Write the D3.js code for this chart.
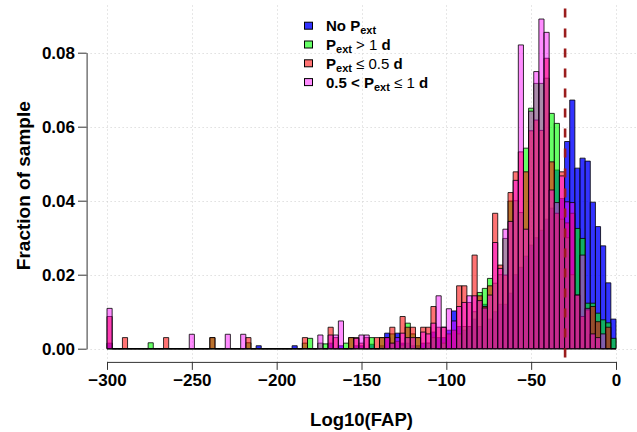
<!DOCTYPE html>
<html>
<head>
<meta charset="utf-8">
<script src="https://cdn.jsdelivr.net/npm/d3@7"></script>
<style>
  html, body { margin: 0; padding: 0; background: #fff; }
  svg { display: block; font-family: "Liberation Sans", Arial, Helvetica, sans-serif; }
</style>
</head>
<body>
<svg id="chart" width="637" height="432"></svg>
<script>
// ---- data (fraction of sample per bin; 99 bins from -300 to 0) ----
const binStart = -300;
const binEnd = 0;
const nBins = 99;

const seriesNames = ["No Pext", "Pext > 1 d", "Pext \u2264 0.5 d", "0.5 < Pext \u2264 1 d"];

const noPext = [
  0.0015,0,0,0,0,0,0,0,0,0,
  0,0,0,0,0,0,0,0,0,0,
  0,0,0,0,0,0,0,0,0,0.0008,
  0,0,0,0,0,0,0.0008,0,0,0,
  0,0,0,0.0015,0,0.0008,0,0,0.0008,0.0008,
  0,0.0012,0,0.0008,0.0042,0.0015,0.0042,0.0015,0.0015,0.0008,
  0.0008,0.0015,0.0015,0.0045,0.003,0.003,0.005,0.0102,0.006,0.005,
  0.006,0.008,0.006,0.012,0.008,0.01,0.012,0.012,0.015,0.02,
  0.022,0.025,0.028,0.03,0.032,0.035,0.038,0.0483,0.0406,0.056,
  0.0672,0.0488,0.0515,0.0507,0.0396,0.033,0.0278,0.0178,0.008
];

const pextGt1 = [
  0,0,0,0,0,0,0,0,0.0016,0,
  0,0,0,0,0,0,0,0,0,0,
  0.003,0,0,0,0,0,0,0.0016,0,0,
  0,0,0,0,0,0,0,0,0.0015,0.0028,
  0,0.0015,0.0013,0,0,0,0.0015,0.003,0,0,
  0,0.003,0,0.003,0,0.004,0,0.001,0.0069,0.004,
  0.003,0,0.0015,0.003,0,0.0015,0,0,0.004,0.006,
  0.006,0.01,0.0152,0.0163,0.019,0.0177,0.02,0.0298,0.0399,0.04,
  0.0368,0.0542,0.065,0.0717,0.0717,0.0731,0.0636,0.0609,0.035,0.03,
  0.02,0.0325,0.0298,0.0123,0.0123,0.0096,0.0078,0.007,0.0028
];

const pextLe05 = [
  0.0087,0,0,0.003,0,0,0,0,0,0,
  0,0.003,0,0,0,0,0,0,0,0,
  0.003,0,0,0,0,0,0,0.003,0,0,
  0,0,0,0,0,0,0,0,0.003,0,
  0,0,0,0.0058,0.003,0,0,0.003,0.003,0.0015,
  0.003,0,0.003,0.003,0.003,0.0058,0.002,0.0087,0.0058,0.0058,
  0.003,0.0058,0.0058,0.0114,0.0058,0.0058,0.004,0.005,0.017,0.017,
  0.0125,0.0253,0.0143,0.0114,0.017,0.0366,0.0226,0.0199,0.0422,0.0478,
  0.0532,0.0478,0.0589,0.0618,0.059,0.0785,0.0505,0.0366,0.0478,0.034,
  0.0366,0.0145,0.0087,0.0105,0.0114,0.0073,0,0.0058,0
];

const pext05to1 = [
  0.0109,0,0,0,0,0,0,0,0,0,
  0,0,0,0,0,0,0.0039,0,0,0,
  0,0,0,0.0039,0,0,0.0039,0,0,0,
  0,0,0,0,0,0,0,0,0,0,
  0,0.0037,0,0.0037,0.0037,0.0075,0,0,0.0028,0.0037,
  0.0037,0,0,0,0.003,0.0015,0.003,0.0042,0.003,0.003,
  0,0.0045,0.004,0.0069,0.0143,0.0058,0.0108,0.0075,0.0114,0.0125,
  0.0143,0.0143,0.013,0.011,0.0145,0.0287,0.0217,0.0323,0.0344,0.0455,
  0.0821,0.0323,0.0642,0.0749,0.0891,0.0855,0.0429,0.0395,0.0467,0.0397,
  0.0395,0.0145,0.0253,0.0109,0.004,0.003,0.004,0,0
];

const xTicks = [-300, -250, -200, -150, -100, -50, 0];
const yTicks = [0, 0.02, 0.04, 0.06, 0.08];
const thresholdLine = -30;

// ---- styling ----
const fills = ["rgba(0,0,255,0.8)", "rgba(0,255,0,0.6)", "rgba(255,0,0,0.55)", "rgba(255,0,255,0.45)"];
const seriesValues = [noPext, pextGt1, pextLe05, pext05to1];

const svg = d3.select("#chart");
const plot = { left: 86.6, right: 636.4, top: 5.5, bottom: 361.9 };

const x = d3.scaleLinear().domain([binStart, binEnd]).range([107, 616]);
const y = d3.scaleLinear().domain([0, 0.08]).range([348.7, 52.7]);

const binW = (binEnd - binStart) / nBins;
const edges = d3.range(nBins + 1).map(i => binStart + i * binW);

// grid (dotted)
const grid = svg.append("g").attr("stroke", "#cfcfcf").attr("stroke-width", 1).attr("stroke-dasharray", "1,3");
grid.selectAll("line.v").data(xTicks).join("line")
  .attr("x1", d => Math.round(x(d)) + 0.5).attr("x2", d => Math.round(x(d)) + 0.5)
  .attr("y1", plot.top).attr("y2", plot.bottom);
grid.selectAll("line.h").data(yTicks).join("line")
  .attr("y1", d => Math.round(y(d)) + 0.5).attr("y2", d => Math.round(y(d)) + 0.5)
  .attr("x1", plot.left).attr("x2", plot.right);

// bars
seriesValues.forEach((vals, si) => {
  const g = svg.append("g");
  g.selectAll("path").data(vals).join("path")
    .attr("d", (v, i) => {
      const x0 = x(edges[i]), x1 = x(edges[i + 1]);
      const y0 = y(0), y1 = y(v);
      return `M${x0},${y0}V${y1}H${x1}V${y0}Z`;
    })
    .attr("fill", fills[si])
    .attr("stroke", "#000")
    .attr("stroke-opacity", 0.8)
    .attr("stroke-width", 1);
});

// threshold dashed line
svg.append("line")
  .attr("x1", x(thresholdLine)).attr("x2", x(thresholdLine))
  .attr("y1", plot.top).attr("y2", plot.bottom)
  .attr("stroke", "#9a1c1c").attr("stroke-width", 2.6)
  .attr("stroke-dasharray", "9,11").attr("stroke-dashoffset", 17);

// axes
const fmtY = d3.format(".2f");
const yAxis = d3.axisLeft(y).tickValues(yTicks).tickFormat(fmtY).tickSize(8.6).tickSizeOuter(0).tickPadding(3);
const gy = svg.append("g").attr("transform", `translate(${plot.left},0)`).call(yAxis);
const xAxis = d3.axisBottom(x).tickValues(xTicks).tickFormat(d => d < 0 ? "\u2212" + Math.abs(d) : String(d)).tickSize(8).tickSizeOuter(0).tickPadding(4);
const gx = svg.append("g").attr("transform", `translate(0,${plot.bottom})`).call(xAxis);
[gx, gy].forEach(g => {
  g.selectAll("path, line").attr("stroke", "#333").attr("stroke-width", 1);
  g.selectAll("text").attr("fill", "#000").attr("font-size", "17px").attr("font-weight", "bold")
    .attr("font-family", "'Liberation Sans', Arial, sans-serif");
});

// axis titles
svg.append("text").attr("x", (plot.left + plot.right) / 2).attr("y", 426)
  .attr("text-anchor", "middle").attr("font-size", "18.5px").attr("font-weight", "bold").text("Log10(FAP)");
svg.append("text").attr("transform", `translate(30,${(plot.top + plot.bottom) / 2 + 2}) rotate(-90)`)
  .attr("text-anchor", "middle").attr("font-size", "19px").attr("font-weight", "bold").text("Fraction of sample");

// legend
const legendRows = [
  [{t: "No P", b: true}, {t: "ext", b: true, sub: true}],
  [{t: "P", b: true}, {t: "ext", b: true, sub: true}, {t: " > 1 ", b: false}, {t: "d", b: true}],
  [{t: "P", b: true}, {t: "ext", b: true, sub: true}, {t: " \u2264 0.5 ", b: false}, {t: "d", b: true}],
  [{t: "0.5 < P", b: true}, {t: "ext", b: true, sub: true}, {t: " \u2264 1 ", b: false}, {t: "d", b: true}]
];
const leg = svg.append("g");
legendRows.forEach((row, i) => {
  const cy = 25.7 + i * 18.8;
  leg.append("rect").attr("x", 304.5).attr("y", cy - 3.5).attr("width", 8).attr("height", 7)
    .attr("fill", fills[i]).attr("stroke", "#000").attr("stroke-width", 1);
  const t = leg.append("text").attr("x", 326).attr("y", cy + 5.5).attr("font-size", "15px").attr("xml:space", "preserve");
  let prevSub = false;
  row.forEach(p => {
    const ts = t.append("tspan").text(p.t).attr("font-weight", p.b ? "bold" : "normal");
    if (p.sub) ts.attr("font-size", "11px").attr("dy", 3);
    else if (prevSub) ts.attr("dy", -3);
    prevSub = !!p.sub;
  });
});
</script>
</body>
</html>
